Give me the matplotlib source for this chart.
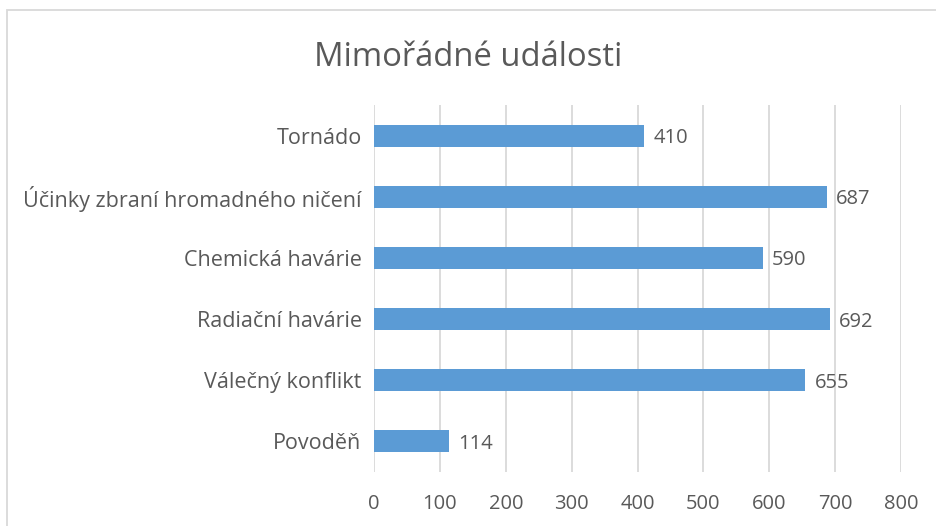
import matplotlib.pyplot as plt
from matplotlib.patches import Rectangle

plt.rcParams['font.family'] = ['Open Sans', 'DejaVu Sans']

kategorie = ['Povoděň', 'Válečný konflikt', 'Radiační havárie',
             'Chemická havárie', 'Účinky zbraní hromadného ničení', 'Tornádo']
hodnoty = [114, 655, 692, 590, 687, 410]
x_ticks = [0, 100, 200, 300, 400, 500, 600, 700, 800]

seda = '#595959'
modra = '#5B9BD5'

fig = plt.figure(figsize=(9.36, 5.26), dpi=100)
ax = fig.add_axes([0.3996, 0.1027, 0.563, 0.6973])

y = range(len(kategorie))
ax.barh(y, hodnoty, height=0.36, color=modra, zorder=3)
for i, v in zip(y, hodnoty):
    ax.text(v + 14, i - 0.04, str(v), va='center', ha='left', fontsize=14.5, color=seda)

ax.set_xlim(0, 800)
ax.set_ylim(-0.5, len(kategorie) - 0.5)
ax.set_xticks(x_ticks)
ax.set_yticks(list(y))
ax.set_yticklabels(kategorie)
ax.tick_params(axis='both', length=0, labelsize=14.5, colors=seda)
ax.tick_params(axis='y', pad=9, labelsize=15.5)
ax.tick_params(axis='x', pad=16)
ax.grid(axis='x', color='#D9D9D9', linewidth=1.3, zorder=0)
for s in ax.spines.values():
    s.set_visible(False)

fig.text(0.5, 0.891, 'Mimořádné události', ha='center', va='center',
         fontsize=23.6, color=seda)

# ramecek grafu
fig.patches.append(Rectangle((7.5 / 936, -0.1), 1.2, (526 - 9.5) / 526 + 0.1,
                             transform=fig.transFigure, fill=False,
                             edgecolor='#D9D9D9', linewidth=1.3))

fig.savefig('out.png', dpi=100)
